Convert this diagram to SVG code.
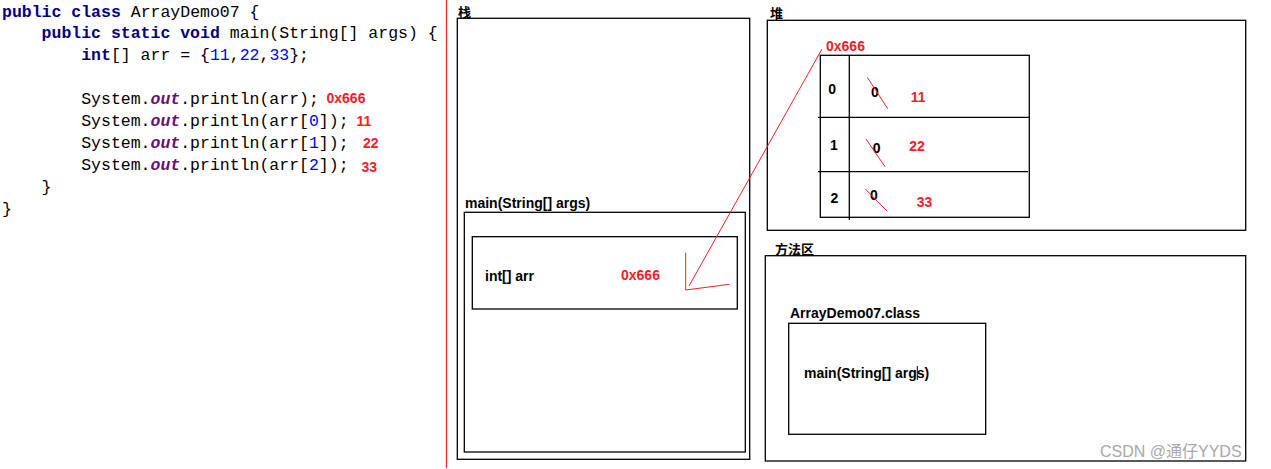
<svg xmlns="http://www.w3.org/2000/svg" width="1271" height="469" viewBox="0 0 1271 469">
<style>
.code{font-family:"Liberation Mono","DejaVu Sans Mono",monospace;font-size:16.5px;fill:#000}
.kw{fill:#000080;font-weight:bold}
.num{fill:#0000ff}
.fld{fill:#660e7a;font-weight:bold;font-style:italic}
.red{font-family:"Liberation Sans",Arial,sans-serif;font-weight:bold;font-size:14px;fill:#f0202a}
.lbl{font-family:"Liberation Sans",Arial,sans-serif;font-weight:bold;font-size:14px;fill:#000}
.cjk{font-family:"Noto Sans CJK SC","Liberation Sans",sans-serif;font-weight:bold;font-size:13px;fill:#000}
.box{fill:none;stroke:#000;stroke-width:1.3}
.rl{stroke:#f0202a;stroke-width:1;fill:none}
</style>
<rect width="1271" height="469" fill="#fff"/>
<g id="code">
<text class="code" x="2" y="16.5"><tspan class="kw">public class</tspan> ArrayDemo07 {</text>
<text class="code" x="41.6" y="38.4"><tspan class="kw">public static void</tspan> main(String[] args) {</text>
<text class="code" x="81.2" y="60.3"><tspan class="kw">int</tspan>[] arr = {<tspan class="num">11</tspan>,<tspan class="num">22</tspan>,<tspan class="num">33</tspan>};</text>
<text class="code" x="81.2" y="104.1">System.<tspan class="fld">out</tspan>.println(arr);</text>
<text class="code" x="81.2" y="126">System.<tspan class="fld">out</tspan>.println(arr[<tspan class="num">0</tspan>]);</text>
<text class="code" x="81.2" y="147.9">System.<tspan class="fld">out</tspan>.println(arr[<tspan class="num">1</tspan>]);</text>
<text class="code" x="81.2" y="169.8">System.<tspan class="fld">out</tspan>.println(arr[<tspan class="num">2</tspan>]);</text>
<text class="code" x="41.6" y="191.7">}</text>
<text class="code" x="2" y="213.6">}</text>
<text class="red" x="326.5" y="102.5">0x666</text>
<text class="red" x="356.5" y="125.5">11</text>
<text class="red" x="363" y="148">22</text>
<text class="red" x="361.5" y="172">33</text>
</g>
<line id="divider" x1="446.5" y1="0" x2="446.5" y2="468" stroke="#ee2a30" stroke-width="1.3"/>
<g id="stack">
<text class="cjk" x="458" y="17">栈</text>
<rect class="box" x="457.3" y="18.3" width="292.4" height="441"/>
</g>
<g id="main-frame">
<text class="lbl" x="465" y="207.5">main(String[] args)</text>
<rect class="box" x="464.3" y="212.3" width="281" height="239.7"/>
</g>
<g id="arr-var">
<rect class="box" x="472.3" y="236.7" width="265" height="72.3"/>
<text class="lbl" x="485" y="281">int[] arr</text>
<text class="red" x="621" y="280">0x666</text>
</g>
<g id="heap">
<text class="cjk" x="770" y="18">堆</text>
<rect class="box" x="767.3" y="20.3" width="478.4" height="210"/>
</g>
<g id="array">
<text class="red" x="826" y="51">0x666</text>
<rect class="box" x="820.3" y="55.3" width="209" height="162"/>
<line class="box" x1="849.3" y1="55.3" x2="849.3" y2="220"/>
<line class="box" x1="818" y1="117.3" x2="1029.3" y2="117.3"/>
<line class="box" x1="818" y1="171.7" x2="1028" y2="171.7"/>
<text class="lbl" x="828.3" y="94.3">0</text>
<text class="lbl" x="830" y="150">1</text>
<text class="lbl" x="830.5" y="203.3">2</text>
<text class="lbl" x="871" y="96.7">0</text>
<text class="lbl" x="872.7" y="152.7">0</text>
<text class="lbl" x="870" y="200">0</text>
<line class="rl" x1="867.3" y1="77.3" x2="887.7" y2="108.7"/>
<line class="rl" x1="866" y1="139" x2="885" y2="166.7"/>
<line class="rl" x1="865.3" y1="189" x2="887" y2="211"/>
<text class="red" x="910.7" y="101.7">11</text>
<text class="red" x="909.3" y="150.7">22</text>
<text class="red" x="916.7" y="207.3">33</text>
</g>
<g id="method-area">
<text class="cjk" x="775" y="254">方法区</text>
<rect class="box" x="765.3" y="255.7" width="480.4" height="205.3"/>
</g>
<g id="class-box">
<text class="lbl" x="790" y="317.5">ArrayDemo07.class</text>
<rect class="box" x="788.7" y="323.3" width="197" height="111"/>
<text class="lbl" x="804" y="377.5">main(String[] args)</text>
<line x1="917.3" y1="366" x2="917.3" y2="380" stroke="#000" stroke-width="1"/>
</g>
<g id="connectors">
<line class="rl" x1="822" y1="49" x2="689" y2="286"/>
<path class="rl" d="M685.7 252.7 L685.7 290 L729.3 284.3"/>
</g>
<text x="1100" y="456.7" font-family="'Liberation Sans','Noto Sans CJK SC',sans-serif" font-size="16" fill="#a8a8a8">CSDN @通仔YYDS</text>
</svg>
